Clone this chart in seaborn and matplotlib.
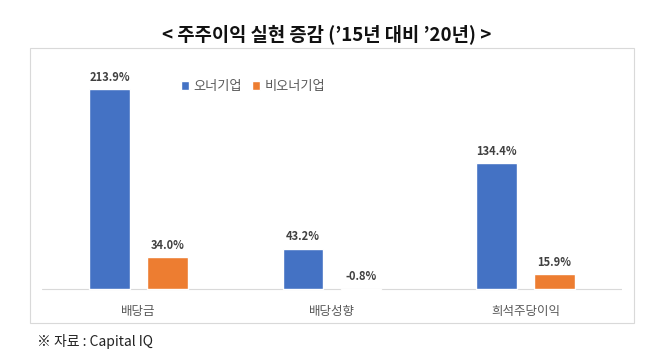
import pandas as pd
import seaborn as sns
import matplotlib.pyplot as plt
from matplotlib.patches import Rectangle

categories = ["배당금", "배당성향", "희석주당이익"]
series = ["오너기업", "비오너기업"]
owner = [213.9, 43.2, 134.4]
non_owner = [34.0, -0.8, 15.9]
colors = ["#4472C4", "#ED7D31"]

df = pd.DataFrame({
    "항목": categories * 2,
    "구분": [series[0]] * 3 + [series[1]] * 3,
    "값": owner + non_owner,
})

sns.set_theme(style="white")
plt.rcParams['font.family'] = ['Noto Sans CJK KR', 'DejaVu Sans']
plt.rcParams['axes.unicode_minus'] = False

fig = plt.figure(figsize=(6.46, 3.64), dpi=100)
ax = fig.add_axes([0.065, 0.193, 0.898, 0.629])

# chart frame
fig.patches.append(Rectangle((30 / 646, 1 - 323 / 364), 604 / 646, 275 / 364,
                             transform=fig.transFigure, fill=False,
                             edgecolor="#d9d9d9", linewidth=0.8))

sns.barplot(data=df, x="항목", y="값", hue="구분", palette=colors,
            saturation=1, width=0.6, gap=0.3, ax=ax, legend=True)

ax.set_xlim(-0.5, 2.5)
ax.set_ylim(-5, 240)
ax.axhline(0, color="#d9d9d9", linewidth=0.8, zorder=0)
for s in ax.spines.values():
    s.set_visible(False)
ax.set_yticks([])
ax.set_xlabel("")
ax.set_ylabel("")
ax.tick_params(axis="x", length=0, pad=8, labelsize=9, labelcolor="#595959")

for cont in ax.containers:
    for p in cont.patches:
        h = p.get_height()
        ax.text(p.get_x() + p.get_width() / 2, max(h, 0) + 6, f"{h:.1f}%",
                ha="center", va="bottom", fontsize=8, fontweight="bold",
                color="#404040")

ax.legend(loc="upper left", bbox_to_anchor=(0.22, 0.985), ncol=2, frameon=False,
          fontsize=9.5, handlelength=0.6, handleheight=0.6, handletextpad=0.3,
          columnspacing=0.8, labelcolor="#595959")

fig.text(0.506, 0.905, "< 주주이익 실현 증감 (’15년 대비 ’20년) >", ha="center",
         va="center", fontsize=13.5, fontweight="bold", color="#111111")
fig.text(0.058, 0.063, "※ 자료 : Capital IQ", ha="left", va="center",
         fontsize=10, color="#222222")

fig.savefig("out.png", dpi=100)
